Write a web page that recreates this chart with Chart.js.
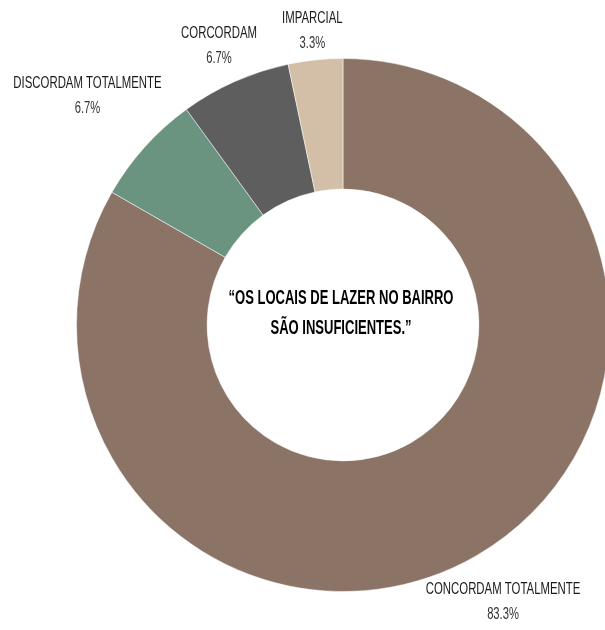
<!DOCTYPE html>
<html>
<head>
<meta charset="utf-8">
<script src="https://cdn.jsdelivr.net/npm/chart.js@4"></script>
<style>
  html, body { margin: 0; padding: 0; background: #fff; overflow: hidden; }
  #wrap { width: 605px; height: 630px; overflow: hidden; }
</style>
</head>
<body>
<div id="wrap"><canvas id="donut" width="620" height="630"></canvas></div>
<script>
// answers, clockwise from 12 o'clock
const labels = ["CONCORDAM TOTALMENTE", "DISCORDAM TOTALMENTE", "CORCORDAM", "IMPARCIAL"];
const percents = [83.3, 6.7, 6.7, 3.3];
const colors = ["#8b7366", "#6a9480", "#5e5e5e", "#d3bea8"];
const centerLines = ["\u201cOS LOCAIS DE LAZER NO BAIRRO", "S\u00c3O INSUFICIENTES.\u201d"];

// extra distance of each outside label from the ring
const labelGap = [53, 77, 39, 30];

function squeezedText(ctx, text, x, y, sx) {
    ctx.save();
    ctx.translate(x, y);
    ctx.scale(sx, 1);
    ctx.fillText(text, 0, 0);
    ctx.restore();
}

const donutLabels = {
    id: "donutLabels",
    afterDraw(chart) {
        const ctx = chart.ctx;
        const meta = chart.getDatasetMeta(0);
        ctx.save();
        ctx.textAlign = "center";
        ctx.textBaseline = "middle";

        meta.data.forEach((arc, i) => {
            const mid = (arc.startAngle + arc.endAngle) / 2;
            const r = arc.outerRadius + labelGap[i];
            const x = arc.x + Math.cos(mid) * r;
            const y = arc.y + Math.sin(mid) * r;
            ctx.fillStyle = "#1a1a1a";
            ctx.font = "17px 'Liberation Sans', Arial, sans-serif";
            squeezedText(ctx, labels[i], x, y - 12, 0.67);
            ctx.fillStyle = "#333";
            squeezedText(ctx, percents[i].toFixed(1) + "%", x, y + 13, 0.66);
        });

        // title in the hole
        const cx = meta.data[0].x, cy = meta.data[0].y;
        ctx.fillStyle = "#000";
        ctx.font = "bold 21px 'Liberation Sans', Arial, sans-serif";
        squeezedText(ctx, centerLines[0], cx - 2, cy - 27, 0.62);
        squeezedText(ctx, centerLines[1], cx - 2, cy + 3, 0.62);
        ctx.restore();
    }
};

new Chart(document.getElementById("donut"), {
    type: "doughnut",
    data: {
        labels,
        datasets: [{
            data: percents,
            backgroundColor: colors,
            borderColor: "rgba(255,255,255,0.5)",
            borderWidth: 1
        }]
    },
    options: {
        responsive: false,
        animation: false,
        cutout: "51%",
        layout: { padding: { left: 76, right: 10, top: 58, bottom: 38 } },
        plugins: {
            legend: { display: false },
            tooltip: { enabled: false }
        }
    },
    plugins: [donutLabels]
});
</script>
</body>
</html>
